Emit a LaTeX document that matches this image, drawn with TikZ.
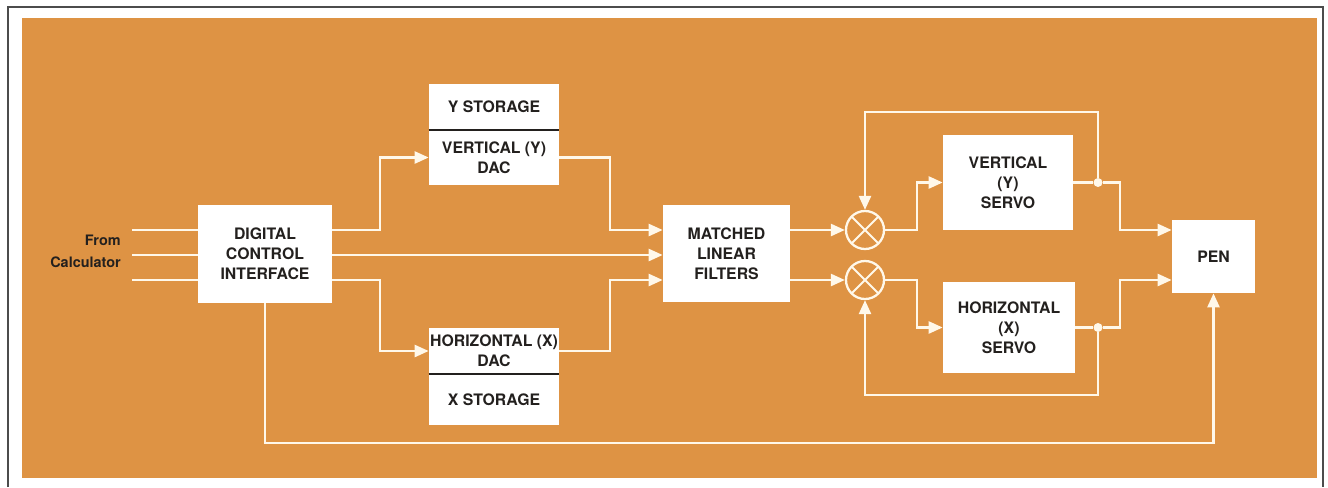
\documentclass[tikz,border=0pt]{standalone}
\usepackage{fontspec}
\setmainfont{TeX Gyre Heros}
\usepackage{xcolor}
\usetikzlibrary{arrows.meta}

\definecolor{panel}{RGB}{222,147,68}
\definecolor{wire}{RGB}{255,248,234}
\definecolor{ink}{RGB}{35,32,30}

\begin{document}
\begin{tikzpicture}[x=0.02cm, y=-0.02cm,
    blk/.style={fill=white, inner sep=0pt, align=center, text=ink,
                font=\fontsize{9}{11.3}\selectfont\bfseries},
    half/.style={blk, minimum width=2.6cm},
    mix/.style={circle, draw=wire, line width=1.3pt, minimum size=0.76cm, inner sep=0pt,
                path picture={\draw[wire, line width=1.1pt]
                  (path picture bounding box.north west) -- (path picture bounding box.south east)
                  (path picture bounding box.north east) -- (path picture bounding box.south west);}},
    dot/.style={circle, fill=wire, inner sep=0pt, minimum size=0.18cm},
    wr/.style={draw=wire, line width=1.4pt},
    arr/.style={wr, -{Triangle[length=2.8mm, width=2.4mm]}}
  ]
  \useasboundingbox (0,0) rectangle (1328,487);
  \fill[white] (0,0) rectangle (1328,487);
  \draw[gray!60!black, line width=0.8pt] (8,487) |- (1323,7) -- (1323,487);
  \fill[panel] (22,18) rectangle (1317,478);

  \node[anchor=east, align=right, text=ink, inner sep=0pt,
        font=\fontsize{8.2}{12.4}\selectfont\bfseries]
    (src) at (121,251) {From\\Calculator};

  \node[blk, minimum width=2.68cm, minimum height=1.96cm] (dci) at (265,254) {DIGITAL\\CONTROL\\INTERFACE};

  \node[half, minimum height=0.92cm] (ystor) at (494,107) {Y STORAGE};
  \node[half, minimum height=1.1cm]  (ydac)  at (494,157.5) {VERTICAL (Y)\\DAC};
  \node[half, minimum height=0.92cm] (xdac)  at (494,351) {HORIZONTAL (X)\\DAC};
  \node[half, minimum height=1.02cm] (xstor) at (494,399.5) {X STORAGE};
  \draw[ink, line width=1pt] (ystor.south west) -- (ystor.south east);
  \draw[ink, line width=1pt] (xdac.south west) -- (xdac.south east);

  \node[blk, minimum width=2.54cm, minimum height=1.94cm] (mlf) at (726.5,253.5) {MATCHED\\LINEAR\\FILTERS};

  \node[mix] (cy) at (865,230) {};
  \node[mix] (cx) at (865,280) {};

  \node[blk, minimum width=2.6cm, minimum height=1.9cm]   (vs) at (1008,182.5) {VERTICAL\\(Y)\\SERVO};
  \node[blk, minimum width=2.64cm, minimum height=1.82cm] (hs) at (1009,327.5) {HORIZONTAL\\(X)\\SERVO};
  \node[blk, minimum width=1.66cm, minimum height=1.46cm] (pen) at (1213.5,256.5) {PEN};

  \node[dot] (dy) at (1098,182.5) {};
  \node[dot] (dx) at (1098,327.5) {};

  % three input lines and the columns where the wires turn
  \coordinate (in1) at (132,230);
  \coordinate (in2) at (132,255);
  \coordinate (in3) at (132,280);
  \coordinate (sx) at (380,0);
  \coordinate (mx) at (610,0);
  \coordinate (ex) at (917,0);
  \coordinate (px) at (1120,0);
  \coordinate (top) at (0,112);
  \coordinate (bot) at (0,395);
  \coordinate (floor) at (0,443);

  \foreach \i in {in1,in2,in3}
    \draw[wr] (\i) -- (\i -| dci.west);

  \draw[arr] (dci.east |- in1) -- (sx |- in1) |- (ydac.west);
  \draw[arr] (dci.east |- in2) -- (mlf.west |- in2);
  \draw[arr] (dci.east |- in3) -- (sx |- in3) |- (xdac.west);
  \draw[arr] (ydac.east) -| (mx |- in1) -- (mlf.west |- in1);
  \draw[arr] (xdac.east) -| (mx |- in3) -- (mlf.west |- in3);

  \draw[arr] (mlf.east |- in1) -- (cy);
  \draw[arr] (mlf.east |- in3) -- (cx);
  \draw[arr] (cy.east) -- (ex |- cy) |- (vs.west);
  \draw[arr] (cx.east) -- (ex |- cx) |- (hs.west);

  % servo outputs to the pen, with feedback to the summing points
  \draw[wr] (vs.east) -- (dy);
  \draw[wr] (hs.east) -- (dx);
  \draw[arr] (dy) -- (px |- dy) |- (pen.west |- in1);
  \draw[arr] (dx) -- (px |- dx) |- (pen.west |- in3);
  \draw[arr] (dy) -- (dy |- top) -| (cy.north);
  \draw[arr] (dx) -- (dx |- bot) -| (cx.south);

  \draw[arr] (dci.south) -- (dci.south |- floor) -| (pen.south);
\end{tikzpicture}
\end{document}
